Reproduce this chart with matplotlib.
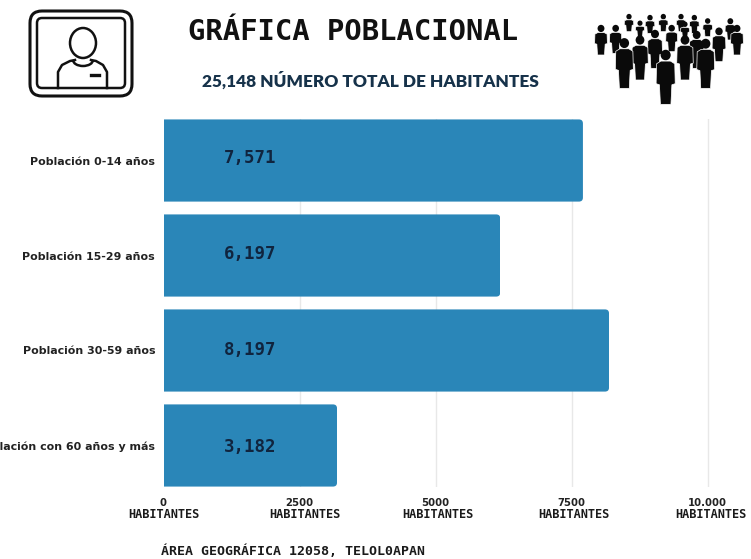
import matplotlib
matplotlib.use("Agg")
import matplotlib.pyplot as plt
from matplotlib.patches import FancyBboxPatch, Ellipse, Polygon, Arc
from matplotlib.transforms import IdentityTransform

# datos
categorias = ["Población 0-14 años", "Población 15-29 años", "Población 30-59 años", "Población con 60 años y más"]
valores = [7710, 6190, 8190, 3190]
etiquetas = ["7,571", "6,197", "8,197", "3,182"]
ticks = [0, 2500, 5000, 7500, 10000]
tick_labels = ["0", "2500", "5000", "7500", "10.000"]
hab_x = [0, 2600, 5050, 7550, 10060]

# personas del icono: x, y arriba, y pies (pixeles del recorte de zoom)
personas = [(132, 27, 80), (195, 30, 85), (235, 27, 80), (288, 27, 80), (328, 30, 85), (368, 40, 95), (436, 40, 105),
            (165, 47, 95), (300, 50, 100), (48, 60, 150), (92, 60, 145), (456, 60, 150), (260, 60, 140),
            (402, 68, 170), (210, 75, 190), (335, 78, 190), (165, 92, 225), (300, 92, 225), (118, 100, 250),
            (362, 102, 250), (242, 135, 298)]

W, H = 751, 559
fig = plt.figure(figsize=(W / 100, H / 100), dpi=100)
fig.set_facecolor("white")

ax = fig.add_axes([163.5 / W, 1 - 487 / H, (W - 163.5) / W, (487 - 119) / H])
bars = ax.barh(range(4), valores, height=0.865, color="#2a86b8", zorder=2)
ax.set_xlim(0, (W - 163.5) / 0.0544)
ax.set_ylim(3.437, -0.437)
ax.set_yticks(range(4))
ax.set_yticklabels(categorias, fontsize=7.9, fontweight="bold", color="#222222")
ax.set_xticks(ticks)
ax.set_xticklabels(tick_labels, fontsize=7.3, fontweight="bold", color="#222222")
ax.tick_params(length=0, pad=8)
ax.tick_params(axis="y", pad=6)
ax.grid(axis="x", color="#e8e8e8", lw=1, zorder=0)
ax.get_xgridlines()[0].set_visible(False)
for s in ax.spines.values():
    s.set_visible(False)

# esquinas redondeadas solo a la derecha
fig.canvas.draw()
for b in bars:
    e = b.get_window_extent()
    clip = FancyBboxPatch((e.x0 - 20, e.y0), e.width + 20, e.height, boxstyle="round,pad=0,rounding_size=4",
                          transform=IdentityTransform())
    b.set_clip_path(clip)

for i, t in enumerate(etiquetas):
    ax.text(1590, i * 1.014 - 0.03, t, va="center", ha="center", fontsize=12.5, fontweight="bold",
            family="DejaVu Sans Mono", color="#10243e", zorder=3)

for t in hab_x:
    ax.text(t, -0.074, "HABITANTES", transform=ax.get_xaxis_transform(), ha="center", va="center",
            fontsize=8.6, fontweight="bold", family="DejaVu Sans Mono", color="#1a1a1a", clip_on=False)

fig.text(188 / W, 1 - 32 / H, "GRÁFICA POBLACIONAL", fontsize=20.8, fontweight="bold", family="DejaVu Sans Mono",
         color="#111111", va="center", ha="left")
fig.text(370 / W, 1 - 81 / H, "25,148 NÚMERO TOTAL DE HABITANTES", fontsize=12.4, fontweight="heavy", family="Lato",
         color="#16324a", va="center", ha="center")
fig.text(161 / W, 1 - 551 / H, "ÁREA GEOGRÁFICA 12058, TELOL0APAN", fontsize=9.5, fontweight="bold",
         family="DejaVu Sans Mono", color="#1a1a1a", va="center", ha="left")

# capa de iconos en pixeles
ic = fig.add_axes([0, 0, 1, 1], zorder=5)
ic.set_xlim(0, W)
ic.set_ylim(H, 0)
ic.axis("off")
ic.patch.set_alpha(0)

ic.add_patch(FancyBboxPatch((30, 11), 102, 85, boxstyle="round,pad=0,rounding_size=12", fc="none", ec="#111111", lw=2.2))
ic.add_patch(FancyBboxPatch((37, 18), 88, 70, boxstyle="round,pad=0,rounding_size=5", fc="none", ec="#111111", lw=1.8))
ic.add_patch(Ellipse((83, 43), 26, 30, fc="none", ec="#111111", lw=1.8))
ic.plot([58, 58, 62, 70, 75], [88, 72, 65, 61, 60], color="#111111", lw=1.8)
ic.plot([107, 107, 103, 96, 91], [88, 72, 65, 61, 60], color="#111111", lw=1.8)
ic.add_patch(Arc((83, 60), 20, 12, theta1=0, theta2=180, color="#111111", lw=1.8))
ic.plot([91, 99], [75, 75], color="#111111", lw=2.4)


def persona(x, y, h):
    r = 1.5 + h * 0.065
    ic.add_patch(Ellipse((x, y + r), r * 2, r * 2.1, fc="#0a0a0a", ec="none"))
    w = 2.5 + h * 0.13
    top = y + r * 2.2
    ic.add_patch(Polygon([(x - w * 0.95, top + h * 0.05), (x - w * 0.5, top), (x + w * 0.5, top),
                          (x + w * 0.95, top + h * 0.05), (x + w, y + h * 0.62), (x + w * 0.65, y + h * 0.64),
                          (x + w * 0.55, y + h), (x - w * 0.55, y + h), (x - w * 0.65, y + h * 0.64),
                          (x - w, y + h * 0.62)], fc="#0a0a0a", ec="white", lw=0.5))


for zx, zt, zb in personas:
    persona(585 + zx / 3, 5 + zt / 3, (zb - zt) / 3)

fig.savefig("out.png", dpi=100)
